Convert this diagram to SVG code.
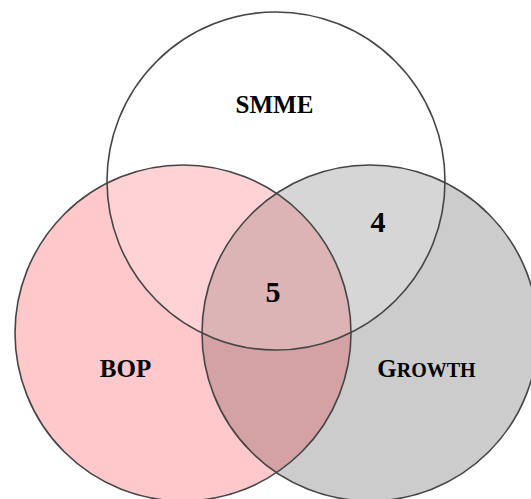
<svg xmlns="http://www.w3.org/2000/svg" xmlns:xlink="http://www.w3.org/1999/xlink" width="531" height="499" viewBox="0 0 531 499">
  <style>
    .outline { fill: none; stroke: #454545; stroke-width: 1.6; }
    .label { font-family: "Liberation Serif", "DejaVu Serif", serif; font-weight: bold; fill: #000; text-anchor: middle; }
    .set { font-size: 25px; }
    .num { font-size: 30px; }
  </style>
  <defs>
    <circle id="c-smme" cx="276" cy="181" r="169"/>
    <circle id="c-bop" cx="183" cy="333" r="168"/>
    <circle id="c-growth" cx="370" cy="333" r="168"/>
    <clipPath id="clip-bop">
      <use xlink:href="#c-bop"/>
    </clipPath>
  </defs>

  <rect width="531" height="499" fill="#ffffff"/>

  <!-- region fills -->
  <g id="fills">
    <use xlink:href="#c-bop" fill="#ffc9cb"/>
    <use xlink:href="#c-growth" fill="#cccccc"/>
    <use xlink:href="#c-growth" fill="#d4a2a4" clip-path="url(#clip-bop)"/>
    <use xlink:href="#c-smme" fill="#ffffff" fill-opacity="0.2"/>
  </g>

  <g id="node-bop">
    <use xlink:href="#c-bop" class="outline"/>
    <text class="label set" x="125.5" y="377">BOP</text>
  </g>

  <g id="node-growth">
    <use xlink:href="#c-growth" class="outline"/>
    <text class="label set" x="426.5" y="377">G<tspan font-size="20">ROWTH</tspan></text>
  </g>

  <g id="node-smme">
    <use xlink:href="#c-smme" class="outline"/>
    <text class="label set" x="274.5" y="113">SMME</text>
  </g>

  <!-- overlap counts -->
  <g id="overlap-counts">
    <text class="label num" x="378" y="232">4</text>
    <text class="label num" x="273" y="302">5</text>
  </g>

  <g id="connectors"/>
</svg>
